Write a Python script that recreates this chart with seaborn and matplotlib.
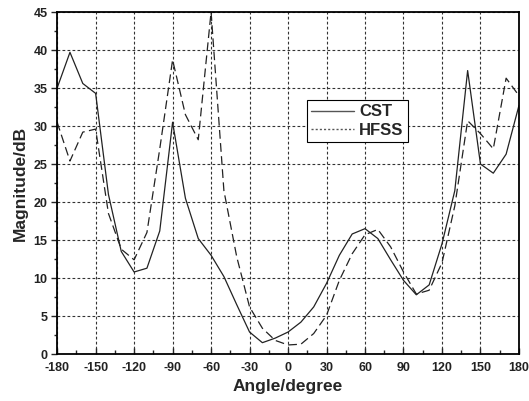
import numpy as np
import pandas as pd
import matplotlib
matplotlib.use('Agg')
import matplotlib.pyplot as plt
import seaborn as sns
from matplotlib.ticker import MultipleLocator
from matplotlib.lines import Line2D

# ── Datos ─────────────────────────────────────────────────────────────────────
angles = list(range(-180, 181, 10))

cst = [35.0, 39.7, 35.6, 34.3, 21.0, 13.5, 10.8, 11.3, 16.2, 30.5,
       20.5, 15.2, 13.0, 10.2, 6.5, 2.9, 1.5, 2.1, 2.9, 4.2,
       6.2, 9.3, 13.0, 15.8, 16.5, 15.2, 12.4, 9.7, 7.8, 9.1,
       14.5, 21.5, 37.3, 25.0, 23.8, 26.3, 32.7]

hfss = [30.5, 25.4, 29.2, 29.6, 18.5, 13.8, 12.4, 16.0, 27.0, 38.7,
        31.5, 28.2, 45.0, 21.5, 12.8, 6.2, 3.4, 1.8, 1.2, 1.3,
        2.7, 5.1, 9.7, 13.2, 15.7, 16.4, 14.1, 10.8, 7.9, 8.4,
        12.0, 19.5, 30.7, 29.0, 27.0, 36.3, 34.0]

series_names = ['CST', 'HFSS']

df = pd.DataFrame({
    'angle': angles * 2,
    'mag': cst + hfss,
    'series': [series_names[0]] * len(angles) + [series_names[1]] * len(angles),
})

sns.set_style('white')
plt.rcParams['font.family'] = ['Liberation Sans', 'DejaVu Sans']
plt.rcParams['axes.unicode_minus'] = False

fig = plt.figure(figsize=(5.29, 4.01), dpi=100)
ax = fig.add_axes([0.108, 0.117, 0.873, 0.853])

sns.lineplot(
    data=df, x='angle', y='mag', hue='series', style='series',
    palette={'CST': '#222222', 'HFSS': '#222222'},
    dashes={'CST': '', 'HFSS': (7, 3.5)},
    linewidth=0.9, ax=ax, legend=False,
)

ax.set_xlim(-180, 180)
ax.set_ylim(0, 45)
ax.xaxis.set_major_locator(MultipleLocator(30))
ax.xaxis.set_minor_locator(MultipleLocator(15))
ax.yaxis.set_major_locator(MultipleLocator(5))
ax.yaxis.set_minor_locator(MultipleLocator(2.5))

ax.grid(True, which='major', color='#333333', linestyle=(0, (2.5, 2)), linewidth=0.8)
for s in ax.spines.values():
    s.set_color('black')
    s.set_linewidth(1.3)

ax.tick_params(axis='x', which='both', direction='in', length=4, width=1, bottom=True, pad=6)
ax.tick_params(axis='x', which='minor', length=3)
ax.tick_params(axis='y', which='both', direction='out', length=4, width=1, left=True, pad=3)
ax.tick_params(axis='y', which='minor', length=2)
for lbl in ax.get_xticklabels() + ax.get_yticklabels():
    lbl.set_fontweight('bold')
    lbl.set_fontsize(9)
    lbl.set_color('#222222')

ax.set_xlabel('Angle/degree', fontsize=12.5, fontweight='bold', labelpad=3)
ax.set_ylabel('Magnitude/dB', fontsize=12.5, fontweight='bold', labelpad=4)

# Leyenda manual con los mismos estilos
handles = [
    Line2D([], [], color='#555555', linewidth=1.0),
    Line2D([], [], color='#555555', linewidth=1.0, linestyle=(0, (1.5, 1.5))),
]
leg = ax.legend(handles, series_names, loc='upper left', bbox_to_anchor=(0.54, 0.742),
                frameon=True, fancybox=False, edgecolor='black', framealpha=1,
                handlelength=2.6, borderpad=0.25, labelspacing=0.2, handletextpad=0.3,
                borderaxespad=0, prop={'weight': 'bold', 'size': 12})
leg.get_frame().set_linewidth(0.8)

fig.savefig('out.png', dpi=100)
